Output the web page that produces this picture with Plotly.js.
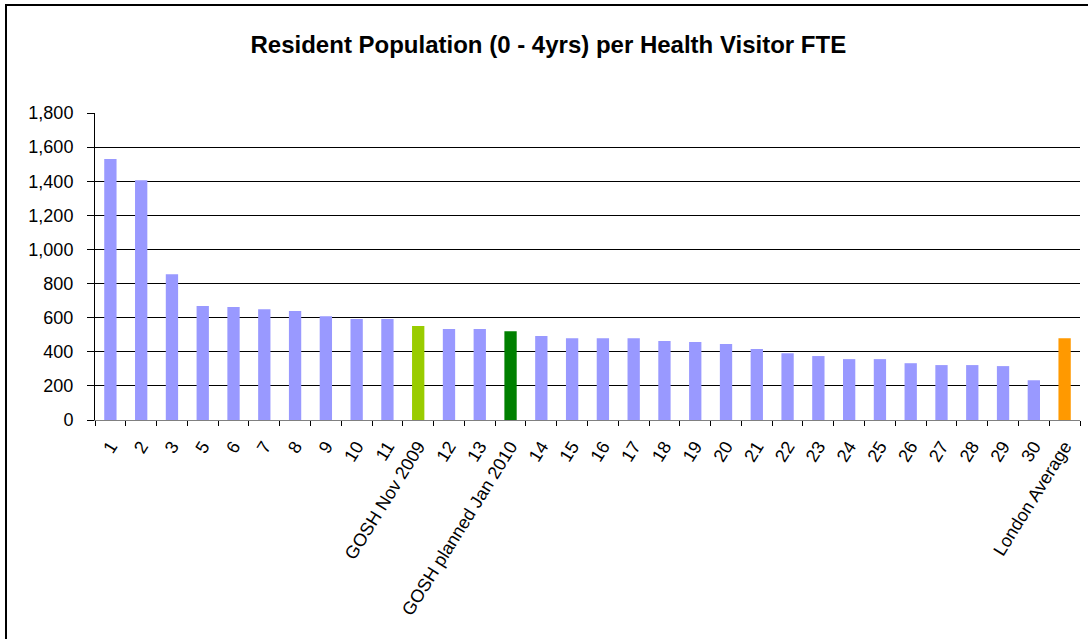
<!DOCTYPE html>
<html>
<head>
<meta charset="utf-8">
<script src="https://cdn.plot.ly/plotly-3.0.1.min.js"></script>
<style>
html,body{margin:0;padding:0;background:#fff;}
#wrap{position:relative;width:1088px;height:639px;overflow:hidden;}
#chart{position:absolute;left:0;top:0;width:1088px;height:639px;}
#bl{position:absolute;left:5px;top:4px;width:2px;height:700px;background:#000;}
#bt{position:absolute;left:5px;top:4px;width:1200px;height:2px;background:#000;}
</style>
</head>
<body>
<div id="wrap"><div id="chart"></div><div id="bl"></div><div id="bt"></div></div>
<script>
const categories = ["1","2","3","5","6","7","8","9","10","11","GOSH Nov 2009","12","13","GOSH planned Jan 2010","14","15","16","17","18","19","20","21","22","23","24","25","26","27","28","29","30","London Average"];
const values = [1530,1405,855,668,662,650,639,609,592,592,551,533,533,521,492,480,480,480,463,457,445,416,392,375,357,357,333,322,322,316,233,480];
const specialColors = {"GOSH Nov 2009":"#99CC00","GOSH planned Jan 2010":"#008000","London Average":"#FF9900"};
const defaultColor = "#9999FF";
const colors = categories.map(c => specialColors[c] || defaultColor);

const trace = {
  type:'bar', x:categories, y:values,
  marker:{color:colors, line:{width:0}},
  hoverinfo:'x+y'
};
const layout = {
  width:1088, height:639,
  margin:{l:95, r:8, t:113, b:219, pad:0},
  paper_bgcolor:'#fff', plot_bgcolor:'#fff',
  font:{family:'Arial, "Liberation Sans", sans-serif', size:18, color:'#000'},
  title:{text:'<b>Resident Population (0 - 4yrs) per Health Visitor FTE</b>', x:0.504, xanchor:'center', y:0.93, yanchor:'middle', yref:'container', font:{size:24, color:'#000'}},
  bargap:0.6,
  showlegend:false,
  xaxis:{type:'category', tickangle:-58, ticks:'outside', ticklen:5, tickcolor:'#000', tickson:'boundaries',
         ticklabelstandoff:8,
         showline:true, linecolor:'#808080', linewidth:1, showgrid:false, automargin:false, tickfont:{size:18}},
  yaxis:{range:[0,1800], dtick:200, tickformat:',', ticks:'outside', ticklen:7, tickcolor:'#000',
         ticklabelstandoff:10,
         showline:true, linecolor:'#000', linewidth:1, showgrid:true, gridcolor:'#000', gridwidth:1,
         zeroline:false, automargin:false, tickfont:{size:18}}
};
layout.title.y = 1 - 45/639;
Plotly.newPlot('chart',[trace],layout,{displayModeBar:false, staticPlot:true});
</script>
</body>
</html>
